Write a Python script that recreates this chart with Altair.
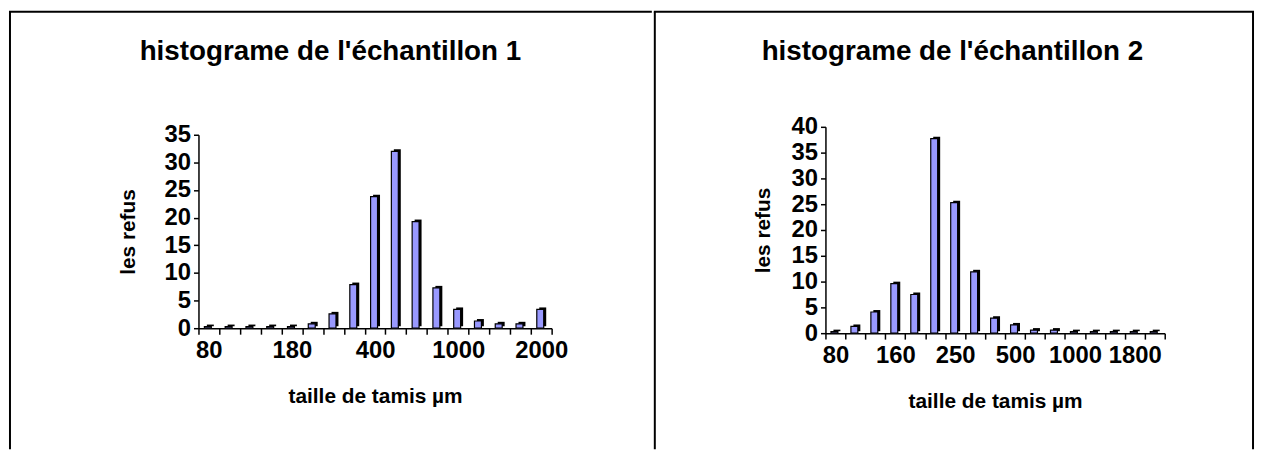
import altair as alt
import pandas as pd

# ---- data ----
sizes1 = ["80", "100", "125", "160", "180", "200", "250", "315", "400",
          "500", "630", "800", "1000", "1250", "1600", "1800", "2000"]
refus1 = [0.3, 0.3, 0.3, 0.3, 0.3, 0.8, 2.6, 7.9, 23.8, 32.0, 19.3, 7.3,
          3.4, 1.3, 0.8, 0.8, 3.4]
labels1 = ["80", "180", "400", "1000", "2000"]

sizes2 = ["80", "100", "125", "160", "200", "224", "250", "315", "400",
          "500", "630", "800", "1000", "1250", "1600", "1800", "2000"]
refus2 = [0.3, 1.3, 4.1, 9.6, 7.5, 37.7, 25.3, 11.9, 2.9, 1.6, 0.6, 0.6,
          0.3, 0.3, 0.3, 0.3, 0.3]
labels2 = ["80", "160", "250", "500", "1000", "1800"]

titles = ["histograme de l'échantillon 1", "histograme de l'échantillon 2"]

FONT = "Liberation Sans"
FILL = "#9999FF"


def panel(sizes, refus, labels, title, ymax, w, h, yrange_top, border,
          show_lr, tpos, ytitle_pad):
    df = pd.DataFrame({"taille": sizes, "refus": refus})
    expr = "indexof(%s, datum.value) >= 0 ? datum.label : ''" % str(labels)
    x = alt.X("taille:N", sort=sizes, title="taille de tamis µm",
              scale=alt.Scale(paddingInner=0, paddingOuter=0),
              axis=alt.Axis(labelAngle=0, tickBand="extent", labelExpr=expr,
                            tickSize=6, labelPadding=5, titlePadding=23,
                            labelFontSize=24, titleFontSize=21,
                            labelFontWeight="bold", titleFontWeight="bold",
                            labelOverlap=False))
    y = alt.Y("refus:Q", title="les refus",
              scale=alt.Scale(domain=[0, ymax], nice=False,
                              range=[h, yrange_top]),
              axis=alt.Axis(values=list(range(0, ymax + 1, 5)), grid=False,
                            tickSize=5, labelPadding=3,
                            titlePadding=ytitle_pad, labelFontSize=24,
                            titleFontSize=21, labelFontWeight="bold",
                            titleFontWeight="bold"))
    base = alt.Chart(df)
    back = base.mark_bar(color="black", size=7, xOffset=1.5,
                         yOffset=-2).encode(x=x, y=y)
    front = base.mark_bar(fill=FILL, stroke="black", strokeWidth=1.2,
                          size=7, xOffset=-1).encode(x=x, y=y)
    one = alt.Chart(pd.DataFrame({"k": [0]}))
    L, T, R, B = border
    lr = one.mark_rule(color="black", strokeWidth=2,
                       strokeOpacity=1 if show_lr[0] else 0).encode(
        x=alt.value(L), y=alt.value(T), y2=alt.value(B))
    tr = one.mark_rule(color="black", strokeWidth=2,
                       strokeCap="square").encode(
        x=alt.value(L), x2=alt.value(R), y=alt.value(T))
    rr = one.mark_rule(color="black", strokeWidth=2,
                       strokeOpacity=1 if show_lr[1] else 0).encode(
        x=alt.value(R), y=alt.value(T), y2=alt.value(B))
    ttl = one.mark_text(text=title, font=FONT, fontSize=28, fontWeight="bold",
                        color="black", align="center",
                        baseline="middle").encode(
        x=alt.value(tpos[0]), y=alt.value(tpos[1]))
    return alt.layer(back, front, lr, tr, rr, ttl).properties(
        width=w, height=h)


p1 = panel(sizes1, refus1, labels1, titles[0], 35, 356, 203, 8,
           (-190, -116, 456, 325), (True, False), (133, -75), 26)
p2 = panel(sizes2, refus2, labels2, titles[1], 40, 342, 208, 0,
           (-172, -116, 431, 325), (True, True), (128, -75), 18)

chart = alt.hconcat(p1, p2, spacing=0).properties(
    padding=0, background="white"
).configure_view(
    strokeWidth=0, stroke="transparent"
).configure_axis(
    domainColor="black", domainWidth=1.5, tickColor="black", tickWidth=1.5,
    labelColor="black", titleColor="black", labelFont=FONT, titleFont=FONT,
    labelFontWeight="bold", titleFontWeight="bold"
)

chart.save("out.html", embed_options={"renderer": "svg", "actions": False})
